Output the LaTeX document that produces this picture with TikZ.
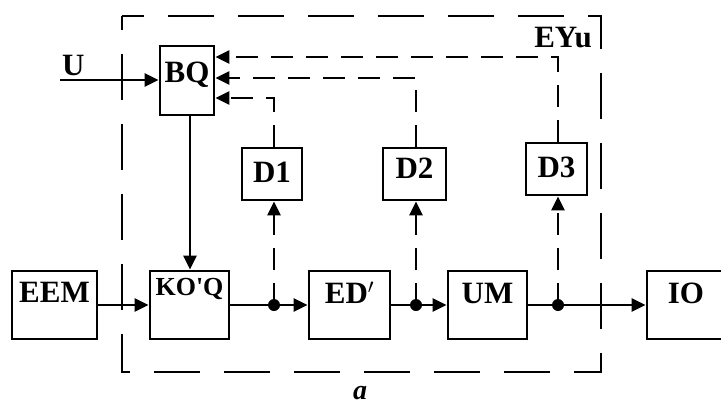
\documentclass[tikz,border=0pt]{standalone}
\usepackage{fontspec}
\setmainfont{Liberation Serif}
\usetikzlibrary{arrows.meta,calc}
\begin{document}
\begin{tikzpicture}[x=1pt,y=-1pt,
  blk/.style={draw,line width=2.7pt,rectangle,inner sep=0pt,font=\fontsize{31}{31}\selectfont\bfseries},
  sol/.style={line width=2.7pt},
  dsh/.style={line width=2.7pt,dash pattern=on 22pt off 13pt},
  tip/.style={-{Triangle[length=14pt,width=13pt]}},
  dot/.style={circle,fill,inner sep=0pt,minimum size=12pt}
]
\useasboundingbox (0,0) rectangle (721,407);
% outer dashed frame
\draw[line width=2.8pt,dash pattern=on 46pt off 24pt,dash phase=24pt]
  (122,16) -- (601,16) -- (601,372) -- (122,372) -- cycle;
% blocks
\node[blk,minimum width=85pt,minimum height=68pt,text height=31pt,text depth=37pt] (EEM) at (54.5,305) {EEM};
\node[blk,minimum width=79pt,minimum height=68pt,text height=24pt,text depth=44pt,font=\fontsize{26}{26}\selectfont\bfseries] (KOQ) at (189.5,305) {KO\textquotesingle Q};
\node[blk,minimum width=81pt,minimum height=68pt,text height=32pt,text depth=36pt] (ED) at (349.5,305) {ED$'$};
\node[blk,minimum width=79pt,minimum height=68pt,text height=32pt,text depth=36pt] (UM) at (487.5,305) {UM};
\node[blk,minimum width=78pt,minimum height=68pt,text height=32pt,text depth=36pt] (IO) at (686,305) {IO};
\node[blk,minimum width=54pt,minimum height=69pt,text height=36pt,text depth=33pt] (BQ) at (187,80.5) {BQ};
\node[blk,minimum width=60pt,minimum height=52pt,text height=34pt,text depth=18pt] (D1) at (272,174) {D1};
\node[blk,minimum width=63pt,minimum height=52pt,text height=30pt,text depth=22pt] (D2) at (414.5,174) {D2};
\node[blk,minimum width=61pt,minimum height=52pt,text height=34pt,text depth=18pt] (D3) at (556.5,169) {D3};
% labels
\node[anchor=base west,inner sep=0pt,font=\fontsize{31}{31}\selectfont\bfseries] (Ul) at (62,75) {U};
\node[anchor=base,inner sep=0pt,font=\fontsize{31}{31}\selectfont\bfseries] (EYu) at (563,47) {EYu};
\node[anchor=base,inner sep=0pt,font=\fontsize{28}{28}\selectfont\bfseries\itshape] (lab) at (360,399) {a};
% junction points
\coordinate (Uin) at (60,80);
\node[dot] (j1) at (274,305) {};
\node[dot] (j2) at (416,305) {};
\node[dot] (j3) at (558,305) {};
% solid connectors
\draw[sol,tip] (Uin) -- (Uin -| BQ.west);
\draw[sol,tip] (BQ.south -| 190,0) -- (KOQ.north -| 190,0);
\draw[sol,tip] (EEM.east) -- (KOQ.west);
\draw[sol] (KOQ.east) -- (j1.center);
\draw[sol,tip] (j1.center) -- (ED.west);
\draw[sol] (ED.east) -- (j2.center);
\draw[sol,tip] (j2.center) -- (UM.west);
\draw[sol] (UM.east) -- (j3.center);
\draw[sol,tip] (j3.center) -- (IO.west);
% dashed measurement arrows
\draw[dsh,tip] (j1.center) -- (j1.center |- D1.south);
\draw[dsh,tip] (j2.center) -- (j2.center |- D2.south);
\draw[dsh,tip] (j3.center) -- (j3.center |- D3.south);
% dashed feedback to BQ
\draw[dsh,tip] (j1.center |- D1.north) |- ([yshift=-17.5pt]BQ.east);
\draw[dsh,tip] (j2.center |- D2.north) |- ([yshift=2.5pt]BQ.east);
\draw[dsh,tip] (j3.center |- D3.north) |- ([yshift=23.5pt]BQ.east);
\end{tikzpicture}
\end{document}
